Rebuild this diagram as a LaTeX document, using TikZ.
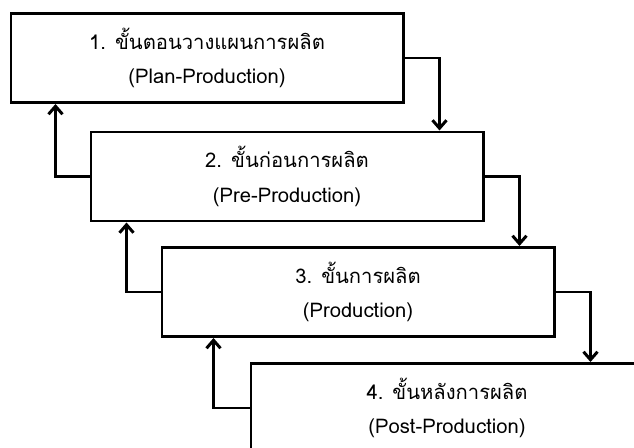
\documentclass[tikz,border=0pt]{standalone}
\usepackage{fontspec}
\newfontfamily\thaifont[Script=Thai]{Loma}
\usepackage{tikz}
\usetikzlibrary{arrows.meta,positioning}

\begin{document}
\begin{tikzpicture}[
    stage/.style={draw=black,line width=1.7pt,fill=white,minimum width=7.84cm,minimum height=1.78cm,
                  align=center,font=\thaifont\fontsize{11.5}{19.5}\selectfont},
    flow/.style={line width=1.7pt,-{Straight Barb[length=1.6mm,width=2.8mm]}}]
\useasboundingbox (0,0) rectangle (12.68,-8.96);

% Production stages (stepped down to the right)
\node[stage] (plan) at (4.14,-1.16) {1. ขั้นตอนวางแผนการผลิต\\(Plan-Production)};
\node[stage] (pre)  at (5.74,-3.53) {2. ขั้นก่อนการผลิต\\(Pre-Production)};
\node[stage] (prod) at (7.16,-5.84) {3. ขั้นการผลิต\\(Production)};
\node[stage] (post) at (8.94,-8.16) {4. ขั้นหลังการผลิต\\(Post-Production)};

% Forward arrows (right side)
\draw[flow] (plan.east) -| ([xshift=-0.9cm]pre.north east);
\draw[flow] (pre.east) -| ([xshift=-0.72cm]prod.north east);
\draw[flow] (prod.east) -| ([xshift=-1.08cm]post.north east);

% Feedback arrows (left side)
\draw[flow] (pre.west) -| ([xshift=0.92cm]plan.south west);
\draw[flow] (prod.west) -| ([xshift=0.74cm]pre.south west);
\draw[flow] (post.west) -| ([xshift=1.06cm]prod.south west);
\end{tikzpicture}
\end{document}
